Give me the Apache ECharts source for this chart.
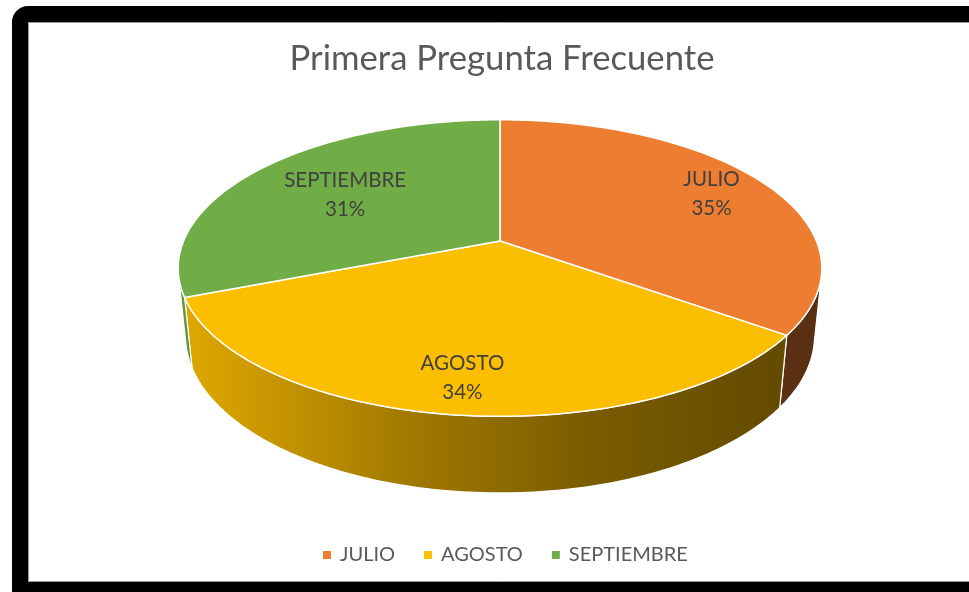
<!DOCTYPE html>
<html><head><meta charset="utf-8">
<script src="https://cdn.jsdelivr.net/npm/echarts@6/dist/echarts.min.js"></script>
<style>html,body{margin:0;padding:0;background:#fff}#c{width:969px;height:592px}</style>
</head><body><div id="c"></div>
<script>
// ---- data ----
const months = ['JULIO', 'AGOSTO', 'SEPTIEMBRE'];
const values = [35, 34, 31];
const titleText = 'Primera Pregunta Frecuente';

// ---- style ----
const topColors = ['#ED7D31', '#FCBE00', '#70AD47'];
const legendColors = ['#ED7D31', '#FFC000', '#70AD47'];
const labelRadius = [0.8, 0.81, 0.63];
const FONT = 'Lato, "Open Sans", sans-serif';

// 3D projection parameters (layout)
const CX = 500, CY = 241, F = 1545, D = 4.883, SA = 0.453, H = 0.242;
const CA = Math.sqrt(1 - SA * SA);
function proj(phiDeg, r, Y) {
  const p = phiDeg * Math.PI / 180;
  const X = r * Math.sin(p), Z = r * Math.cos(p);
  const yc = Y * CA + Z * SA, zc = D + Z * CA - Y * SA;
  return [CX + F * X / zc, CY - F * yc / zc];
}
const total = values.reduce((a, b) => a + b, 0);
function sliceAngles(i) {
  let s = 0;
  for (let k = 0; k < i; k++) s += values[k];
  return [s / total * 360, (s + values[i]) / total * 360];
}
function arcPts(a, b, r, Y) {
  const pts = [];
  const n = Math.max(2, Math.ceil(Math.abs(b - a) / 1));
  for (let k = 0; k <= n; k++) pts.push(proj(a + (b - a) * k / n, r, Y));
  return pts;
}
function shade(hex, f) {
  const n = parseInt(hex.slice(1), 16);
  const r = Math.round(((n >> 16) & 255) * f), g = Math.round(((n >> 8) & 255) * f), b = Math.round((n & 255) * f);
  return 'rgb(' + r + ',' + g + ',' + b + ')';
}
const visLo = Math.acos(-1 / (D * CA)) * 180 / Math.PI;
const visHi = 360 - visLo;

const chart = echarts.init(document.getElementById('c'), null, { renderer: 'canvas' });

const sideSeries = {
  type: 'custom', name: 'sides', coordinateSystem: 'none', silent: true, z: 1,
  data: values.map((v, i) => ({ name: months[i] + ' ', value: v })),
  renderItem: function (params, api) {
    const i = params.dataIndex;
    const [a, b] = sliceAngles(i);
    const lo = Math.max(a, visLo), hi = Math.min(b, visHi);
    if (hi <= lo) return { type: 'group', children: [] };
    const top = arcPts(lo, hi, 1, 0);
    const bot = arcPts(hi, lo, 1, -H);
    const base = legendColors[i];
    const grad = new echarts.graphic.LinearGradient(180, 0, 820, 0, [
      { offset: 0, color: shade(base, 0.88) },
      { offset: 0.36, color: shade(base, 0.63) },
      { offset: 0.64, color: shade(base, 0.48) },
      { offset: 1, color: shade(base, 0.37) }
    ], true);
    return {
      type: 'polygon',
      shape: { points: top.concat(bot) },
      style: { fill: grad, stroke: '#ffffff', lineWidth: 1.2, lineJoin: 'round' }
    };
  }
};

const topSeries = months.map((m, i) => ({
  type: 'custom', name: m, coordinateSystem: 'none', z: 2,
  itemStyle: { color: legendColors[i] },
  data: [{ name: m, value: values[i] }],
  renderItem: function (params, api) {
    const [a, b] = sliceAngles(i);
    const pts = [[CX, CY]].concat(arcPts(a, b, 1, 0));
    const mid = (a + b) / 2;
    const lp = proj(mid, labelRadius[i], 0);
    const pct = Math.round(values[i] / total * 100);
    return {
      type: 'group',
      children: [
        { type: 'polygon', shape: { points: pts },
          style: { fill: topColors[i], stroke: '#ffffff', lineWidth: 1.5, lineJoin: 'round' } },
        { type: 'text', z2: 10,
          style: { text: m + '\n' + pct + '%', x: lp[0], y: lp[1] + 2, align: 'center', verticalAlign: 'middle',
                   font: '20.5px ' + FONT, fill: '#404040', lineHeight: 29 } }
      ]
    };
  }
}));

chart.setOption({
  animation: false,
  backgroundColor: '#ffffff',
  title: {
    text: titleText, left: 497, top: 36, textAlign: 'center',
    textStyle: { fontSize: 34.7, fontWeight: 'normal', color: '#595959', fontFamily: FONT }
  },
  legend: {
    data: months, left: 318, top: 540, icon: 'rect', itemWidth: 8, itemHeight: 8, itemGap: 29,
    textStyle: { fontSize: 20, color: '#595959', fontFamily: FONT, padding: [0, 0, 0, 4] },
    selectedMode: false
  },
  graphic: [
    { type: 'rect', z: 100, silent: true,
      shape: { x: 20, y: 14, width: 1000, height: 576, r: [8, 0, 0, 0] },
      style: { fill: null, stroke: '#000000', lineWidth: 16 } },
    { type: 'rect', z: 101, silent: true,
      shape: { x: 28.5, y: 22.5, width: 1000, height: 559 },
      style: { fill: null, stroke: '#9a9a9a', lineWidth: 1 } }
  ],
  series: [sideSeries].concat(topSeries)
});
</script>
</body></html>
